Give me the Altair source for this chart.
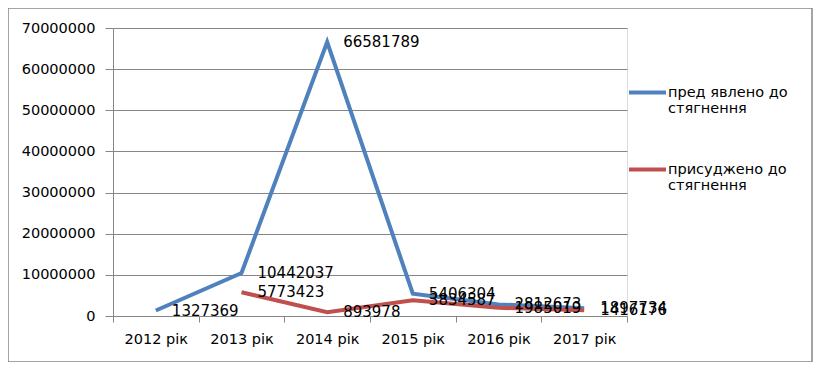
import altair as alt
import pandas as pd

years = ["2012 рік", "2013 рік", "2014 рік", "2015 рік", "2016 рік", "2017 рік"]
presented = [1327369, 10442037, 66581789, 5406304, 2812673, 1897734]
awarded = [None, 5773423, 893978, 3834587, 1985019, 1416176]
series_names = ["пред явлено до стягнення", "присуджено до стягнення"]
colors = ["#4F81BD", "#C0504D"]
y_ticks = [0, 10000000, 20000000, 30000000, 40000000, 50000000, 60000000, 70000000]

rows = []
for s, vals in zip(series_names, [presented, awarded]):
    for yr, v in zip(years, vals):
        if v is not None:
            rows.append({"year": yr, "series": s, "value": v})
df = pd.DataFrame(rows)

FONT = "DejaVu Sans"
GRAY = "#868686"


def build(use_lh):
    x_enc = alt.X("year:N", sort=years, title=None,
                  scale=alt.Scale(domain=years, paddingInner=0, paddingOuter=0),
                  axis=alt.Axis(labelAngle=0, tickBand="extent", tickSize=6, labelPadding=10,
                                domainColor=GRAY, tickColor=GRAY, labelFont=FONT,
                                labelFontSize=14.5, labelColor="#000000", grid=False))
    y_enc = alt.Y("value:Q", title=None,
                  scale=alt.Scale(domain=[0, 70000000], nice=False),
                  axis=alt.Axis(values=y_ticks, format="d", tickSize=8, labelPadding=10,
                                domainColor=GRAY, tickColor=GRAY, gridColor=GRAY,
                                labelFont=FONT, labelFontSize=14.5, labelColor="#000000"))
    legend_kw = dict(title=None, orient="none", legendX=514, legendY=44,
                     symbolType="stroke", symbolSize=1369,
                     symbolStrokeWidth=4, labelOffset=0,
                     labelFont=FONT, labelFontSize=14.5,
                     labelColor="#000000", labelLimit=300,
                     rowPadding=33,
                     labelExpr="[slice(datum.label, 0, indexof(datum.label, ' стягнення')), 'стягнення']")
    if use_lh:
        legend_kw["labelLineHeight"] = 21
        legend_kw["rowPadding"] = 28
    color_enc = alt.Color("series:N",
                          scale=alt.Scale(domain=series_names, range=colors),
                          legend=alt.Legend(**legend_kw))

    base = alt.Chart(df)
    lines = base.mark_line(strokeWidth=4).encode(x=x_enc, y=y_enc, color=color_enc)
    labels = base.mark_text(align="left", baseline="middle", dx=16, font=FONT,
                            fontSize=15, color="#000000").encode(
        x=alt.X("year:N", sort=years), y="value:Q", text=alt.Text("value:Q", format="d"))

    border = alt.Chart(alt.Data(values=[{}])).mark_rect(
        fill="transparent", stroke=GRAY, strokeWidth=1.5).encode(
        x=alt.value(-105), x2=alt.value(699), y=alt.value(-20), y2=alt.value(334))

    c = alt.layer(lines, labels, border).properties(
        width=514, height=288,
        autosize=alt.AutoSizeParams(type="none"),
        padding={"left": 105, "top": 20, "right": 186, "bottom": 46},
    ).configure_view(stroke=None).configure(background="white")
    c.to_dict()
    return c


try:
    chart = build(True)
except Exception:
    chart = build(False)

chart.save("out.html", embed_options={"renderer": "svg", "actions": False})
